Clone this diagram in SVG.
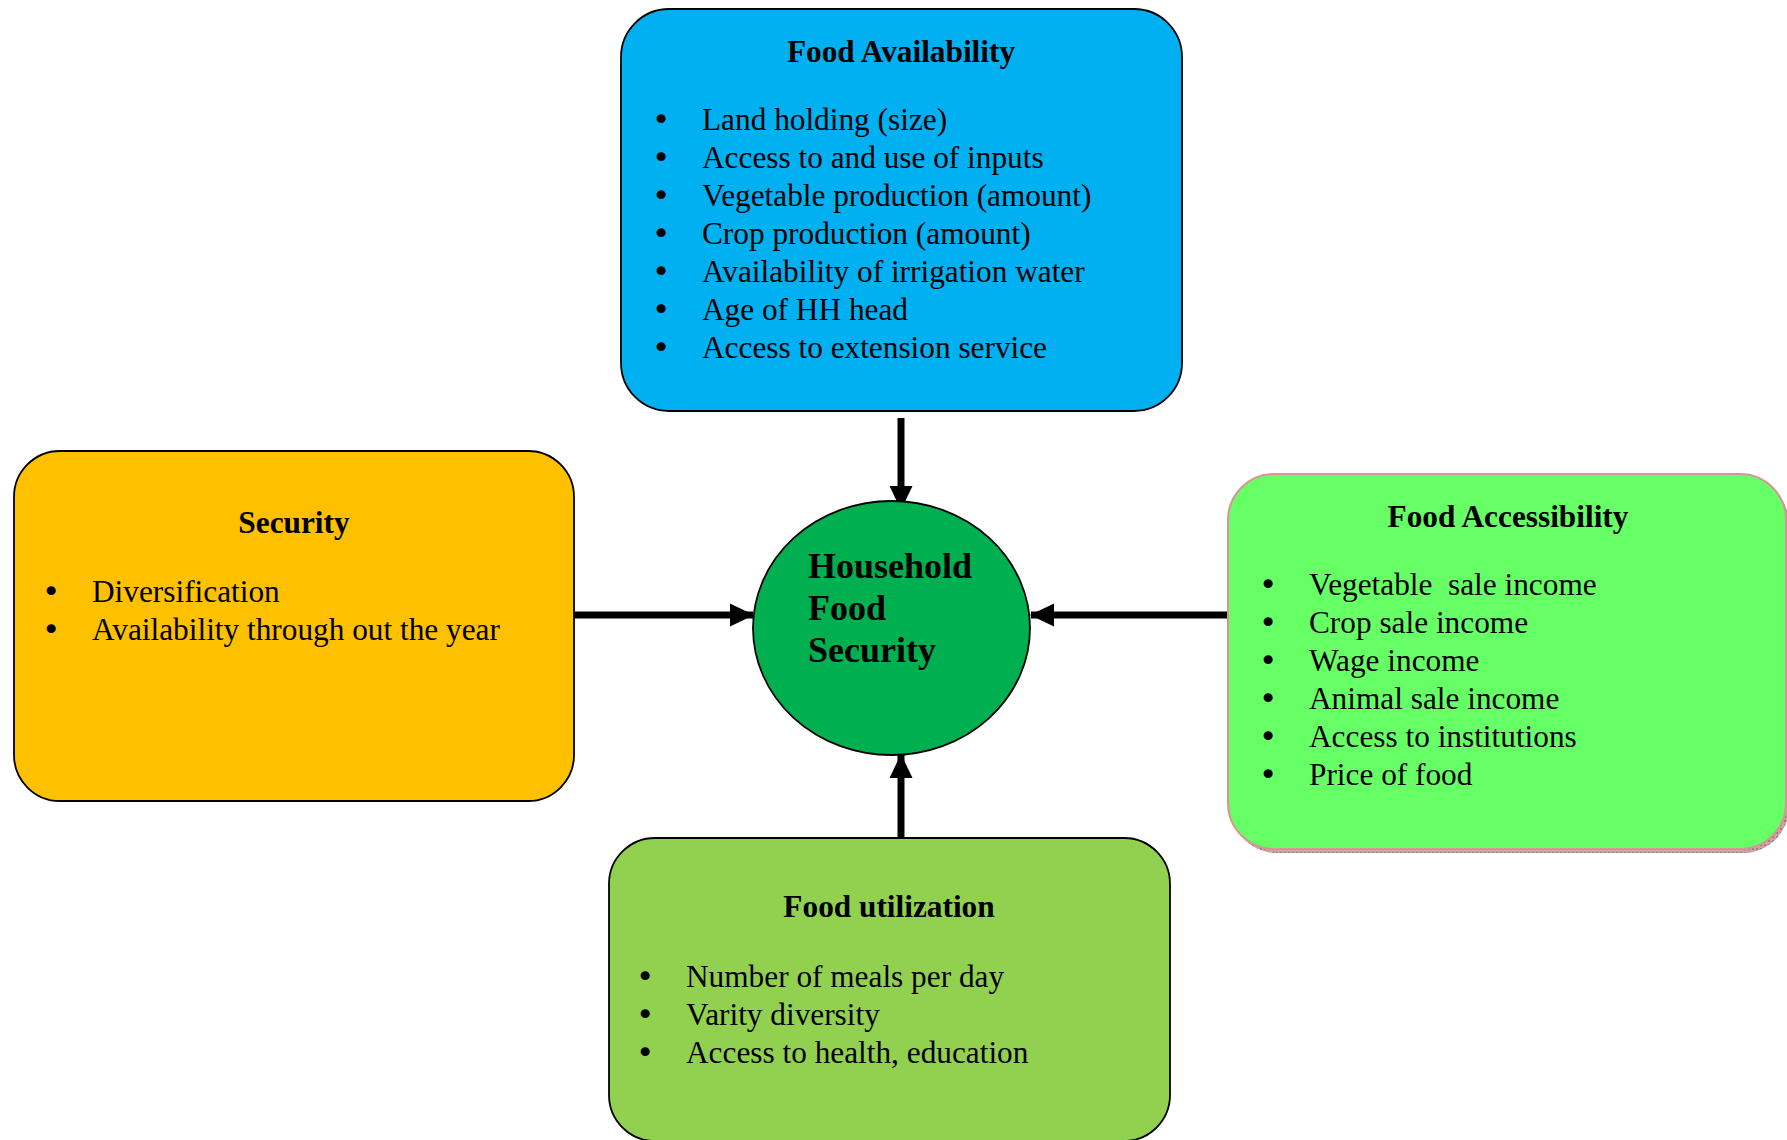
<svg xmlns="http://www.w3.org/2000/svg" width="1787" height="1140" viewBox="0 0 1787 1140">
<defs>
<style>
.box{stroke:#000;stroke-width:1.8}
.t{font-family:"Liberation Serif","Times New Roman",serif;font-size:31.3px;fill:#000;white-space:pre}
.h{font-weight:bold;text-anchor:middle}
.b{font-family:"DejaVu Sans",sans-serif;font-size:31px}
.c{font-family:"Liberation Serif","Times New Roman",serif;font-size:36px;font-weight:bold;fill:#000}
.conn{stroke:#000;stroke-width:7;fill:none}
</style>
<marker id="ah" markerUnits="userSpaceOnUse" markerWidth="24" markerHeight="24" viewBox="0 0 24 24" refX="23" refY="12" orient="auto">
<path d="M0,0.5 L24,12 L0,23.5 Z" fill="#000"/>
</marker>
<pattern id="shp" width="4" height="4" patternUnits="userSpaceOnUse">
<rect width="4" height="4" fill="#c9a3a3"/>
<rect width="2" height="2" fill="#9c7f7f"/>
</pattern>
</defs>
<rect width="1787" height="1140" fill="#fff"/>

<g id="connectors">
<line class="conn" x1="901" y1="418" x2="901" y2="509" marker-end="url(#ah)"/>
<line class="conn" x1="574" y1="615" x2="753" y2="615" marker-end="url(#ah)"/>
<line class="conn" x1="1228" y1="615" x2="1031" y2="615" marker-end="url(#ah)"/>
<line class="conn" x1="901" y1="838" x2="901" y2="755" marker-end="url(#ah)"/>
</g>

<g id="food-availability">
<rect class="box" x="621" y="9" width="561" height="402" rx="48" ry="48" fill="#00B0F0"/>
<text class="t h" x="901" y="62">Food Availability</text>
<g class="t">
<text y="130"><tspan class="b" x="652">•</tspan><tspan x="702">Land holding (size)</tspan></text>
<text y="168"><tspan class="b" x="652">•</tspan><tspan x="702">Access to and use of inputs</tspan></text>
<text y="206"><tspan class="b" x="652">•</tspan><tspan x="702">Vegetable production (amount)</tspan></text>
<text y="244"><tspan class="b" x="652">•</tspan><tspan x="702">Crop production (amount)</tspan></text>
<text y="282"><tspan class="b" x="652">•</tspan><tspan x="702">Availability of irrigation water</tspan></text>
<text y="320"><tspan class="b" x="652">•</tspan><tspan x="702">Age of HH head</tspan></text>
<text y="358"><tspan class="b" x="652">•</tspan><tspan x="702">Access to extension service</tspan></text>
</g>
</g>

<g id="security">
<rect class="box" x="14" y="451" width="560" height="350" rx="46" ry="46" fill="#FFC000"/>
<text class="t h" x="294" y="533">Security</text>
<g class="t">
<text y="602"><tspan class="b" x="42">•</tspan><tspan x="92">Diversification</tspan></text>
<text y="640"><tspan class="b" x="42">•</tspan><tspan x="92">Availability through out the year</tspan></text>
</g>
</g>

<g id="food-accessibility">
<rect x="1231" y="478" width="558" height="375" rx="46" ry="46" fill="url(#shp)"/>
<rect x="1228" y="474" width="558" height="375" rx="46" ry="46" fill="#66FF66" stroke="#D99594" stroke-width="2"/>
<text class="t h" x="1508" y="527">Food Accessibility</text>
<g class="t">
<text y="595" xml:space="preserve"><tspan class="b" x="1259">•</tspan><tspan x="1309">Vegetable  sale income</tspan></text>
<text y="633"><tspan class="b" x="1259">•</tspan><tspan x="1309">Crop sale income</tspan></text>
<text y="671"><tspan class="b" x="1259">•</tspan><tspan x="1309">Wage income</tspan></text>
<text y="709"><tspan class="b" x="1259">•</tspan><tspan x="1309">Animal sale income</tspan></text>
<text y="747"><tspan class="b" x="1259">•</tspan><tspan x="1309">Access to institutions</tspan></text>
<text y="785"><tspan class="b" x="1259">•</tspan><tspan x="1309">Price of food</tspan></text>
</g>
</g>

<g id="food-utilization">
<rect class="box" x="609" y="838" width="561" height="303" rx="46" ry="46" fill="#92D050"/>
<text class="t h" x="889" y="917">Food utilization</text>
<g class="t">
<text y="987"><tspan class="b" x="636">•</tspan><tspan x="686">Number of meals per day</tspan></text>
<text y="1025"><tspan class="b" x="636">•</tspan><tspan x="686">Varity diversity</tspan></text>
<text y="1063"><tspan class="b" x="636">•</tspan><tspan x="686">Access to health, education</tspan></text>
</g>
</g>

<g id="household-food-security">
<ellipse cx="891.5" cy="628" rx="138.5" ry="127" fill="#00B050" stroke="#000" stroke-width="1.8"/>
<text class="c" x="808" y="578">Household</text>
<text class="c" x="808" y="620">Food</text>
<text class="c" x="808" y="662">Security</text>
</g>
</svg>
